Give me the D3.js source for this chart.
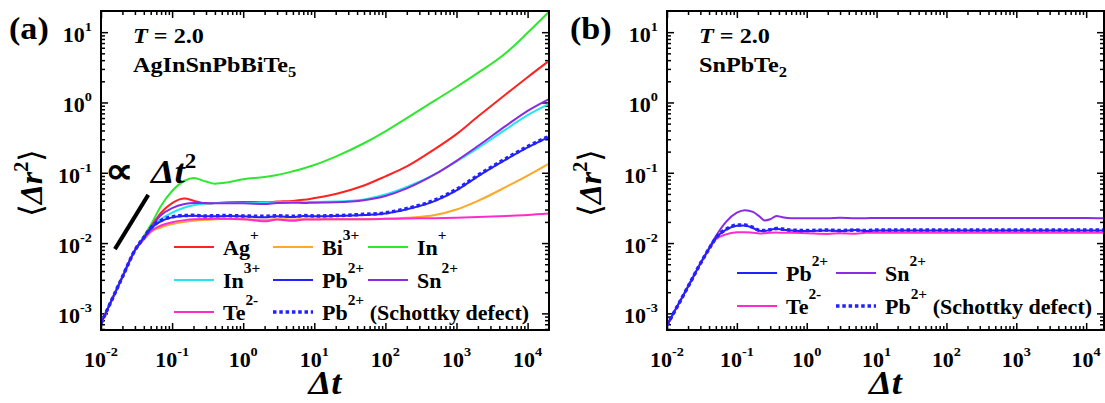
<!DOCTYPE html>
<html>
<head>
<meta charset="utf-8">
<script src="https://cdn.jsdelivr.net/npm/d3@7/dist/d3.min.js"></script>
<style>
body { margin: 0; background: #fff; }
svg text { font-family: "Liberation Serif", "Times New Roman", serif; font-weight: bold; fill: #000; }
</style>
</head>
<body>
<div id="area"></div>
<script>

// ---- data: panel (a) AgInSnPbBiTe5, time grid and <dr^2> per ion ----
var tA = [0.01, 0.02, 0.03, 0.04, 0.05, 0.07, 0.1, 0.15, 0.2, 0.3, 0.4, 0.6, 1, 2, 3, 5, 7, 10,
          20, 50, 100, 200, 500, 1000, 2000, 5000, 10000, 20000];
var agA   = [7.2e-4, 3.3e-3, 7.9e-3, 0.0120, 0.0168, 0.027, 0.037, 0.043, 0.040, 0.0365, 0.037, 0.038, 0.0385, 0.038,
             0.0389, 0.0398, 0.0412, 0.0437, 0.050, 0.066, 0.089, 0.123, 0.219, 0.355, 0.63, 1.32, 2.29, 3.9];
var biA   = [7.2e-4, 3.3e-3, 7.9e-3, 0.0112, 0.0143, 0.0168, 0.0187, 0.0201, 0.0208, 0.0214, 0.0218, 0.0220, 0.0219, 0.0214,
             0.0219, 0.0216, 0.0219, 0.0219, 0.0219, 0.0219, 0.0221, 0.0229, 0.0251, 0.030, 0.0398, 0.063, 0.091, 0.135];
var in1A  = [7.2e-4, 3.3e-3, 7.9e-3, 0.0125, 0.018, 0.034, 0.055, 0.077, 0.084, 0.075, 0.070, 0.073, 0.081, 0.087,
             0.093, 0.105, 0.115, 0.129, 0.17, 0.263, 0.389, 0.60, 1.07, 1.66, 2.63, 5.1, 9.8, 19.5];
var in3A  = [7.2e-4, 3.3e-3, 7.9e-3, 0.0118, 0.0158, 0.022, 0.027, 0.032, 0.0345, 0.0365, 0.037, 0.0374, 0.0372, 0.0372,
             0.038, 0.0385, 0.038, 0.0385, 0.0389, 0.0417, 0.049, 0.063, 0.0955, 0.145, 0.224, 0.417, 0.66, 0.955];
var pbA   = [7.2e-4, 3.3e-3, 7.9e-3, 0.0118, 0.016, 0.0205, 0.0232, 0.0243, 0.0245, 0.024, 0.024, 0.0243, 0.024, 0.0232,
             0.024, 0.0234, 0.0243, 0.024, 0.0243, 0.0251, 0.0263, 0.0302, 0.0398, 0.0562, 0.089, 0.155, 0.229, 0.324];
var snA   = [7.2e-4, 3.3e-3, 7.9e-3, 0.0120, 0.0163, 0.025, 0.0315, 0.036, 0.0372, 0.0370, 0.0367, 0.0367, 0.0367, 0.0359,
             0.0372, 0.0376, 0.0372, 0.0376, 0.038, 0.0407, 0.0468, 0.060, 0.0955, 0.148, 0.24, 0.468, 0.76, 1.12];
var teA   = [7.2e-4, 3.3e-3, 7.9e-3, 0.0113, 0.0147, 0.0178, 0.0198, 0.0212, 0.0218, 0.0220, 0.0221, 0.0221, 0.0219, 0.0204,
             0.0216, 0.0207, 0.0216, 0.0216, 0.0219, 0.0219, 0.0221, 0.0224, 0.0226, 0.0229, 0.0234, 0.0243, 0.0251, 0.0263];
var pbVacA = [7.2e-4, 3.3e-3, 7.9e-3, 0.0120, 0.0163, 0.021, 0.0236, 0.0247, 0.0248, 0.0243, 0.0245, 0.0246, 0.0243, 0.0240,
              0.0245, 0.0240, 0.0246, 0.0243, 0.0246, 0.0256, 0.0269, 0.031, 0.041, 0.058, 0.092, 0.16, 0.236, 0.33];

// ---- data: panel (b) SnPbTe2 ----
var tB = [0.01, 0.02, 0.03, 0.04, 0.05, 0.07, 0.1, 0.13, 0.17, 0.21, 0.25, 0.3, 0.37, 0.45, 0.6, 1, 2, 3, 5, 7, 10,
          100, 1000, 10000, 18000];
var snB   = [6.8e-4, 2.4e-3, 5.1e-3, 8.5e-3, 0.0125, 0.020, 0.027, 0.0293, 0.0278, 0.0240, 0.0210, 0.0218, 0.0243, 0.0233,
             0.0226, 0.0226, 0.0226, 0.0229, 0.0226, 0.0226, 0.0228, 0.0228, 0.0228, 0.0228, 0.0226];
var pbB   = [6.8e-4, 2.4e-3, 5.1e-3, 8.3e-3, 0.0118, 0.0155, 0.0176, 0.0178, 0.0164, 0.0150, 0.0148, 0.0155, 0.0160, 0.0155,
             0.0151, 0.0148, 0.0151, 0.0148, 0.0153, 0.0148, 0.0151, 0.0151, 0.0151, 0.0151, 0.0151];
var teB   = [6.8e-4, 2.4e-3, 5.1e-3, 8.2e-3, 0.0113, 0.0133, 0.0142, 0.0143, 0.0140, 0.0137, 0.0138, 0.0140, 0.0141, 0.0140,
             0.0140, 0.0138, 0.0135, 0.0138, 0.0136, 0.0140, 0.0140, 0.0140, 0.0140, 0.0140, 0.0140];
var pbVacB = [6.8e-4, 2.4e-3, 5.1e-3, 8.3e-3, 0.0118, 0.0157, 0.0180, 0.0180, 0.0167, 0.0152, 0.0151, 0.0155, 0.0161, 0.0158,
              0.0153, 0.0151, 0.0153, 0.0151, 0.0153, 0.0151, 0.0153, 0.0153, 0.0153, 0.0153, 0.0153];

// guide line for the ballistic regime, drawn in data units
var slopeGuide = [[0.0157, 0.0082], [0.0462, 0.0485]];

// axes
var xMajorTicks = [1e-2, 1e-1, 1e0, 1e1, 1e2, 1e3, 1e4];
var yMajorTicks = [1e-3, 1e-2, 1e-1, 1e0, 1e1];
var yDomain = [5.8e-4, 20];

var colors = {
	ag: '#ff2222', bi: '#ffa726', in1: '#2ee82e', in3: '#22e6ee',
	pb: '#2222ff', sn: '#8a2be2', te: '#ff2ccc'
};

var W = 1105, H = 403;
var plotTop = 11, plotBottom = 330;
var SX = 1.1; // lettering in the figure is a little wide

var svg = d3.select('#area').append('svg').attr('width', W).attr('height', H);


/**
* text helpers
*/
function putText(g, x, y, anchor, size){
	return g.append('text')
		.attr('transform', 'translate(' + x + ',' + y + ') scale(' + SX + ',1)')
		.attr('text-anchor', anchor || 'start')
		.attr('font-size', size);
}

function powerLabel(g, x, y, anchor, v){
	var t = putText(g, x, y, anchor, 20);
	t.append('tspan').text('10');
	t.append('tspan').attr('font-size', 13).attr('dy', -11).text(Math.round(Math.log10(v)));
}

function minorTicks(domain){
	var out = [];
	for(var k = -5; k <= 5; k++){
		for(var m = 2; m <= 9; m++){
			var v = m * Math.pow(10, k);
			if(v > domain[0] && v < domain[1]) out.push(v);
		}
	}
	return out;
}


/**
* drawPanel
*/
function drawPanel(p){

	var g = svg.append('g');
	var x = d3.scaleLog().domain([0.01, p.xMax]).range([p.x0, p.x1]);
	var y = d3.scaleLog().domain(yDomain).range([plotBottom, plotTop]);

	var clipId = 'clip' + p.id;
	svg.append('clipPath').attr('id', clipId).append('rect')
		.attr('x', p.x0).attr('y', plotTop).attr('width', p.x1 - p.x0).attr('height', plotBottom - plotTop);

	//Inward ticks on all four sides
	var xMaj = xMajorTicks.filter(function(v){ return v <= p.xMax; });
	var xMin = minorTicks(x.domain());
	var yMin = minorTicks(y.domain());
	var sides = [
		[d3.axisBottom, x, 'translate(0,' + plotBottom + ')'],
		[d3.axisTop, x, 'translate(0,' + plotTop + ')'],
		[d3.axisLeft, y, 'translate(' + p.x0 + ',0)'],
		[d3.axisRight, y, 'translate(' + p.x1 + ',0)']
	];
	sides.forEach(function(s, i){
		var major = i < 2 ? xMaj : yMajorTicks;
		var minor = i < 2 ? xMin : yMin;
		[[major, 7], [minor, 4]].forEach(function(set){
			g.append('g').attr('transform', s[2])
				.call(s[0](s[1]).tickValues(set[0]).tickSize(-set[1]).tickFormat(''))
				.call(function(a){
					a.select('.domain').remove();
					a.selectAll('line').attr('stroke', '#000').attr('stroke-width', 1.5);
				});
		});
	});

	//Tick labels
	xMaj.forEach(function(v){ powerLabel(g, x(v), 367, 'middle', v); });
	yMajorTicks.forEach(function(v){ powerLabel(g, p.x0 - 9, y(v) + 10, 'end', v); });

	//Curves
	var line = d3.line()
		.x(function(d){ return x(d[0]); })
		.y(function(d){ return y(d[1]); })
		.curve(d3.curveMonotoneX);

	var curves = g.append('g').attr('clip-path', 'url(#' + clipId + ')');
	p.series.forEach(function(s){
		var pts = p.t.map(function(t, i){ return [t, s.values[i]]; });
		curves.append('path')
			.attr('d', line(pts))
			.attr('fill', 'none')
			.attr('stroke', s.color)
			.attr('stroke-width', s.dotted ? 3.5 : 2)
			.attr('stroke-dasharray', s.dotted ? '3.5,2.8' : null);
	});

	//Frame
	g.append('rect')
		.attr('x', p.x0).attr('y', plotTop)
		.attr('width', p.x1 - p.x0).attr('height', plotBottom - plotTop)
		.attr('fill', 'none').attr('stroke', '#000').attr('stroke-width', 2);

	//Legend
	p.legend.forEach(function(item){
		var ly = p.legendRows[item.row];
		var lx = p.legendCols[item.col];
		g.append('line')
			.attr('x1', lx).attr('x2', lx + 40).attr('y1', ly).attr('y2', ly)
			.attr('stroke', item.color)
			.attr('stroke-width', item.dotted ? 3.5 : 2)
			.attr('stroke-dasharray', item.dotted ? '3.5,2.8' : null);
		var t = putText(g, lx + 49, ly + 8, 'start', 20);
		t.append('tspan').text(item.name);
		t.append('tspan').attr('font-size', 14).attr('dy', -15).text(item.charge);
		if(item.note) t.append('tspan').attr('dy', 15).text(' ' + item.note);
	});

	//Labels
	putText(g, p.labelX, 39, 'start', 31).text(p.tag);
	var tt = putText(g, p.x0 + 32, 43, 'start', 22);
	tt.append('tspan').attr('font-style', 'italic').text('T');
	tt.append('tspan').text(' = 2.0');
	var comp = putText(g, p.x0 + 32, 72, 'start', 22);
	comp.append('tspan').text(p.compound);
	comp.append('tspan').attr('font-size', 15).attr('dy', 5).text(p.sub);

	var xt = putText(g, (p.x0 + p.x1) / 2, 394, 'middle', 33).attr('font-style', 'italic');
	xt.text('\u0394t');

	var yt = g.append('text')
		.attr('transform', 'translate(' + p.yTitleX + ',183) rotate(-90)')
		.attr('text-anchor', 'middle')
		.attr('font-size', 32);
	yt.append('tspan').attr('font-family', 'DejaVu Sans').attr('font-weight', 'normal').text('\u27E8');
	yt.append('tspan').attr('font-style', 'italic').text('\u0394r');
	yt.append('tspan').attr('font-size', 20).attr('dy', -14).text('2');
	yt.append('tspan').attr('font-family', 'DejaVu Sans').attr('font-weight', 'normal').attr('dy', 14).text('\u27E9');

	return {x: x, y: y, g: g};
}


var legendA = [
	{name: 'Ag', charge: '+', color: colors.ag, col: 0, row: 0},
	{name: 'Bi', charge: '3+', color: colors.bi, col: 1, row: 0},
	{name: 'In', charge: '+', color: colors.in1, col: 2, row: 0},
	{name: 'In', charge: '3+', color: colors.in3, col: 0, row: 1},
	{name: 'Pb', charge: '2+', color: colors.pb, col: 1, row: 1},
	{name: 'Sn', charge: '2+', color: colors.sn, col: 2, row: 1},
	{name: 'Te', charge: '2-', color: colors.te, col: 0, row: 2},
	{name: 'Pb', charge: '2+', note: '(Schottky defect)', color: colors.pb, dotted: true, col: 1, row: 2}
];

var legendB = [
	{name: 'Pb', charge: '2+', color: colors.pb, col: 0, row: 0},
	{name: 'Sn', charge: '2+', color: colors.sn, col: 1, row: 0},
	{name: 'Te', charge: '2-', color: colors.te, col: 0, row: 1},
	{name: 'Pb', charge: '2+', note: '(Schottky defect)', color: colors.pb, dotted: true, col: 1, row: 1}
];

var panelA = drawPanel({
	id: 'a', x0: 101, x1: 549, xMax: 2e4, t: tA,
	tag: '(a)', labelX: 9, yTitleX: 42, compound: 'AgInSnPbBiTe', sub: '5',
	series: [
		{values: in1A, color: colors.in1},
		{values: agA, color: colors.ag},
		{values: in3A, color: colors.in3},
		{values: snA, color: colors.sn},
		{values: biA, color: colors.bi},
		{values: teA, color: colors.te},
		{values: pbA, color: colors.pb},
		{values: pbVacA, color: colors.pb, dotted: true}
	],
	legend: legendA, legendCols: [174, 273, 368], legendRows: [247, 280, 312]
});

drawPanel({
	id: 'b', x0: 667, x1: 1104, xMax: 1.8e4, t: tB,
	tag: '(b)', labelX: 570, yTitleX: 601, compound: 'SnPbTe', sub: '2',
	series: [
		{values: snB, color: colors.sn},
		{values: teB, color: colors.te},
		{values: pbB, color: colors.pb},
		{values: pbVacB, color: colors.pb, dotted: true}
	],
	legend: legendB, legendCols: [737, 836], legendRows: [273, 306]
});

//Ballistic guide and its label in panel (a)
panelA.g.append('line')
	.attr('x1', panelA.x(slopeGuide[0][0])).attr('y1', panelA.y(slopeGuide[0][1]))
	.attr('x2', panelA.x(slopeGuide[1][0])).attr('y2', panelA.y(slopeGuide[1][1]))
	.attr('stroke', '#000').attr('stroke-width', 4);

putText(panelA.g, 105, 183, 'start', 36).attr('font-family', 'DejaVu Sans').text('\u221D');
var pl = putText(panelA.g, 151, 183, 'start', 34).attr('font-style', 'italic');
pl.append('tspan').text('\u0394t');
pl.append('tspan').attr('font-size', 21).attr('font-style', 'normal').attr('dy', -15).text('2');

</script>
</body>
</html>
